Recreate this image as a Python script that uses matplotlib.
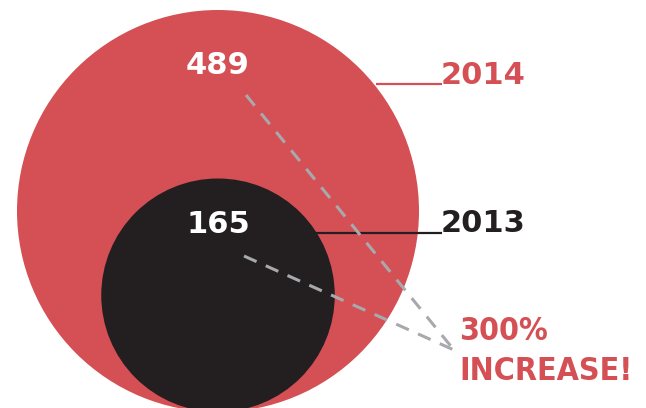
import numpy as np
import matplotlib
matplotlib.use("Agg")
import matplotlib.pyplot as plt
import matplotlib.patches as patches

# Datos
years = ["2013", "2014"]
values = [165, 489]
colors = ["#231f20", "#d45055"]
increase_label = "300%\nINCREASE!"

W, H = 646, 408
fig = plt.figure(figsize=(W / 100, H / 100), dpi=100)
ax = fig.add_axes([0, 0, 1, 1])
ax.set_xlim(0, W)
ax.set_ylim(H, 0)
ax.axis("off")

# circulos proporcionales al area, alineados abajo
k = 201 / np.sqrt(max(values))
cx, base = 218, 412
radii = [k * np.sqrt(v) for v in values]
centers = [(cx, base - r) for r in radii]

order = np.argsort(values)[::-1]
for i in order:
    ax.add_patch(patches.Circle(centers[i], radii[i], color=colors[i], lw=0, zorder=1 + (i == 0)))

# numeros dentro de los circulos
num_off = {"2013": 46, "2014": 55}
for y, v, (x0, y0), r in zip(years, values, centers, radii):
    ax.text(x0, y0 - r + num_off[y], str(v), ha="center", va="center",
            fontsize=22, weight="bold", color="white", family="DejaVu Sans", zorder=5)

# etiquetas de año con linea guia
lab_y = {"2013": 223, "2014": 75}
line_y = {"2013": 233, "2014": 84}
line_x0 = {"2013": 315, "2014": 376}
for y, c in zip(years, colors):
    ax.plot([line_x0[y], 442], [line_y[y]] * 2, color=c, lw=1.6, zorder=4, solid_capstyle="butt")
    ax.text(441, lab_y[y], y, ha="left", va="center", fontsize=22, weight="bold",
            color=c, family="DejaVu Sans", zorder=5)

# lineas discontinuas hacia el texto de aumento
tip = (454, 350)
for p in [(246, 95), (244, 256)]:
    ax.plot([p[0], tip[0]], [p[1], tip[1]], color="#a7a9ac", lw=2.2, ls=(0, (4.5, 3.3)), zorder=4)

ax.text(459, 331, increase_label.split("\n")[0], ha="left", va="center", fontsize=23,
        weight="bold", color=colors[1], family="DejaVu Sans", stretch="condensed", zorder=5)
ax.text(459, 371, increase_label.split("\n")[1], ha="left", va="center", fontsize=23,
        weight="bold", color=colors[1], family="DejaVu Sans", stretch="condensed", zorder=5)

fig.savefig("out.png", dpi=100)
